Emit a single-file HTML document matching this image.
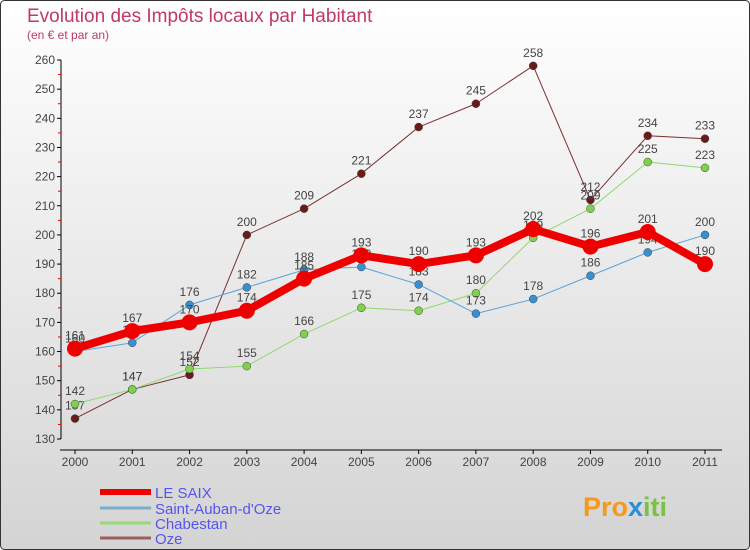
<!DOCTYPE html>
<html><head><meta charset="utf-8"><style>
body{margin:0;}
#wrap{width:750px;height:550px;position:relative;overflow:hidden;font-family:"Liberation Sans",sans-serif;}
</style></head><body>
<div id="wrap">
<svg id="chart" width="750" height="550" xmlns="http://www.w3.org/2000/svg">
<defs><linearGradient id="bg" x1="0" y1="0" x2="0" y2="1"><stop offset="0" stop-color="#ffffff"/><stop offset="1" stop-color="#d4d4d4"/></linearGradient></defs>
<rect x="0.5" y="0.5" width="749" height="549" rx="4" fill="url(#bg)" stroke="#333"/>
<text x="27" y="22" font-size="19" fill="#c0386a">Evolution des Impôts locaux par Habitant</text>
<text x="27" y="39" font-size="12" fill="#c0386a">(en € et par an)</text>
<g id="axes"></g><g id="series"></g><g id="legend"></g>
<text x="583" y="516" font-size="27" font-weight="bold" fill="#f39a1e">Pro<tspan fill="#2a8fd6">x</tspan><tspan fill="#7bc143">iti</tspan></text>
</svg>
</div>
<script>
const years=[2000,2001,2002,2003,2004,2005,2006,2007,2008,2009,2010,2011];
const yTicks=[130,140,150,160,170,180,190,200,210,220,230,240,250,260];
const seriesNames=["LE SAIX","Saint-Auban-d'Oze","Chabestan","Oze"];
const leSaix=[161,167,170,174,185,193,190,193,202,196,201,190];
const saintAuban=[160,163,176,182,188,189,183,173,178,186,194,200];
const chabestan=[142,147,154,155,166,175,174,180,199,209,225,223];
const oze=[137,147,152,200,209,221,237,245,258,212,234,233];
const NS="http://www.w3.org/2000/svg";
const xS=i=>75+i*(630/11);
const yS=v=>60+(260-v)*(379/130);
function mk(tag,attrs,parent,text){const e=document.createElementNS(NS,tag);for(const k in attrs)e.setAttribute(k,attrs[k]);if(text!==undefined)e.textContent=text;parent.appendChild(e);return e;}
const axes=document.getElementById('axes');
let a=mk('line',{x1:61,y1:yS(260),x2:61,y2:yS(130),stroke:'#000'},axes);


a=mk('line',{x1:60,y1:450,x2:722,y2:450,stroke:'#000'},axes);


yTicks.forEach(t=>{
  mk('line',{x1:57,y1:yS(t),x2:61,y2:yS(t),stroke:'#000'},axes);
  if(t<260)mk('line',{x1:58,y1:yS(t+5),x2:61,y2:yS(t+5),stroke:'#e00'},axes);
  const l=mk('text',{x:55,y:yS(t)+4,'font-size':12,fill:'#444','text-anchor':'end'},axes,String(t));
  
  
});
years.forEach((y,i)=>{
  mk('line',{x1:xS(i),y1:450,x2:xS(i),y2:454,stroke:'#000'},axes);
  const l=mk('text',{x:xS(i),y:466,'font-size':12,fill:'#444','text-anchor':'middle'},axes,String(y));
  
  
});
const sg=document.getElementById('series');
const defs=[
 {d:oze,c:'#6b1a1a',lc:'#7a3030',w:1,r:4,n:'oze'},
 {d:chabestan,c:'#7fd14a',lc:'#90d870',w:1,r:4,n:'chabestan'},
 {d:saintAuban,c:'#3a8fd0',lc:'#5ba2d8',w:1,r:4,n:'saint-auban'},
 {d:leSaix,c:'#ee0000',lc:'#ee0000',w:8,r:8,n:'le-saix'}];
defs.forEach(s=>{
  const g=mk('g',{},sg);
  
  
  const p=mk('polyline',{points:s.d.map((v,i)=>xS(i)+','+yS(v)).join(' '),fill:'none',stroke:s.lc,'stroke-width':s.w,'stroke-linejoin':'round'},g);
  
  
  s.d.forEach((v,i)=>{
    const c=mk('circle',{cx:xS(i),cy:yS(v),r:s.r,fill:s.c,stroke:s.w>1?'none':'#444','stroke-width':0.5},g);
    
    
    const t=mk('text',{x:xS(i),y:yS(v)-9,'font-size':12,fill:'#444','text-anchor':'middle'},g,String(v));
    
    
  });
});
const lg=document.getElementById('legend');
const lc=['#ee0000','#7aaed0','#98d878','#9a6060'];
const lw=[6,3,3,3];
const ly=[492,508,523,538];
seriesNames.forEach((n,i)=>{
  const ln=mk('line',{x1:100,y1:ly[i],x2:151,y2:ly[i],stroke:lc[i],'stroke-width':lw[i]},lg);
  
  
  const t=mk('text',{x:155,y:ly[i]+6,'font-size':15,fill:'#5555ee'},lg,n);
  
  
});
</script>
</body></html>
